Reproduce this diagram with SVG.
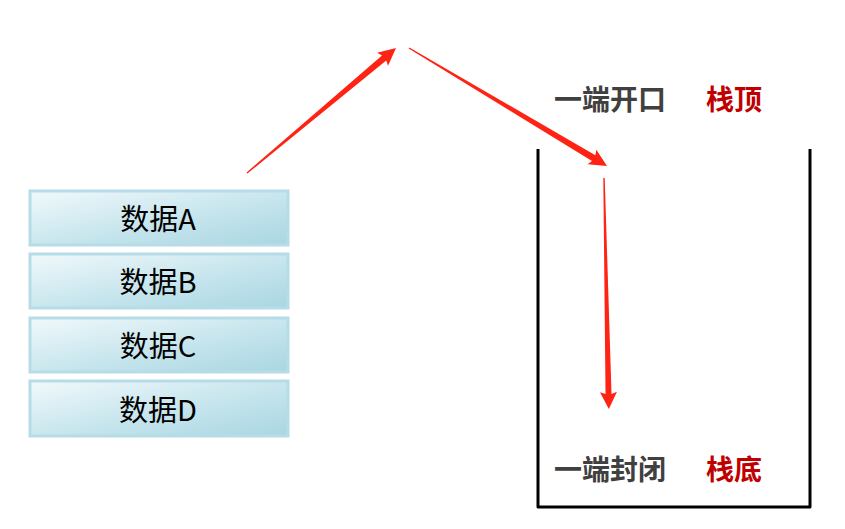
<svg xmlns="http://www.w3.org/2000/svg" width="845" height="529" viewBox="0 0 845 529">
<defs>
<linearGradient id="boxg" x1="0" y1="0" x2="1" y2="1">
<stop offset="0" stop-color="#f1f9fb"/>
<stop offset="0.55" stop-color="#c6e5ed"/>
<stop offset="1" stop-color="#a9d6e2"/>
</linearGradient>
<style>
.box{fill:url(#boxg);stroke:#b5dce7;stroke-width:3}
.bt{font-family:"Noto Sans CJK SC",sans-serif;font-size:29px;fill:#000;text-anchor:middle}
.lbl{font-family:"Noto Sans CJK SC",sans-serif;font-size:28px;font-weight:bold}
.gray{fill:#404040}
.red{fill:#c00000}
.arr{fill:#ff2314}
.wall{fill:none;stroke:#000;stroke-width:3;stroke-linejoin:round}
</style>
</defs>
<rect width="845" height="529" fill="#fff"/>
<g id="nodeA"><rect class="box" x="30" y="191" width="258" height="54"/><text class="bt" x="158" y="230">数据A</text></g>
<g id="nodeB"><rect class="box" x="30" y="254" width="258" height="54"/><text class="bt" x="158" y="293">数据B</text></g>
<g id="nodeC"><rect class="box" x="30" y="318" width="258" height="54"/><text class="bt" x="158" y="357">数据C</text></g>
<g id="nodeD"><rect class="box" x="30" y="381" width="258" height="55"/><text class="bt" x="158" y="421">数据D</text></g>
<g id="stack">
<path class="wall" d="M538,149 V507 H810 V149"/>
<text class="lbl gray" x="554" y="110">一端开口</text>
<text class="lbl red" x="706" y="110">栈顶</text>
<text class="lbl gray" x="554" y="480">一端封闭</text>
<text class="lbl red" x="706" y="480">栈底</text>
</g>
<g id="connectors">
<polygon class="arr" transform="translate(247,173) rotate(-40)" points="0,-0.7 179,-3.3 177,-8.5 194.5,0 177,8.5 179,3.3 0,0.7"/>
<polygon class="arr" transform="translate(409,48) rotate(30.8)" points="0,-0.7 215,-3.3 213,-8.5 230.5,0 213,8.5 215,3.3 0,0.7"/>
<polygon class="arr" transform="translate(604,178) rotate(88.8)" points="0,-0.7 216,-3 214,-8.5 231,0 214,8.5 216,3 0,0.7"/>
</g>
</svg>
